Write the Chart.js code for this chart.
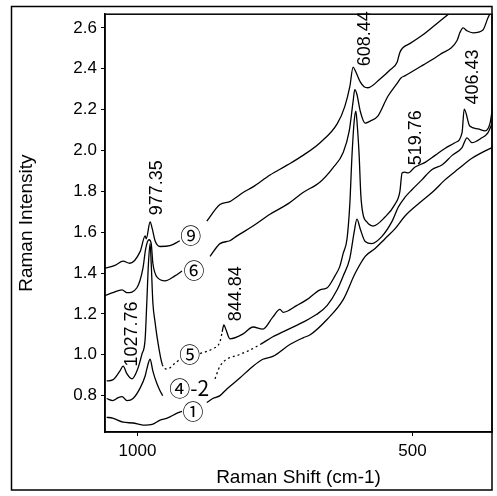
<!DOCTYPE html>
<html>
<head>
<meta charset="utf-8">
<script src="https://cdn.jsdelivr.net/npm/chart.js@4/dist/chart.umd.min.js"></script>
<style>
html,body{margin:0;padding:0;background:#fff;}
#wrap{width:497px;height:496px;position:relative;}
</style>
</head>
<body>
<div id="wrap"><canvas id="c"></canvas></div>
<script>
// ---- data (Raman shift in cm-1, intensity) ----
const shift9 = [1059,1041,1026,1014,995,986,984,977,973,968,959,941,923,905,874,850,832,808,790,759,728,699,668,637,623,614,608,603,595,588,581,559,541,528,523,517,505,481,450,428];
const int9   = [1.424,1.438,1.458,1.448,1.506,1.582,1.568,1.650,1.616,1.558,1.530,1.534,1.558,null,1.654,1.736,1.750,1.794,1.822,1.880,1.928,1.976,2.038,2.130,2.216,2.312,2.408,2.384,2.336,2.312,2.307,2.350,2.394,2.432,2.480,2.504,2.523,2.566,2.634,2.682];

const shift6 = [1059,1045,1028,1019,1001,990,985,979,975,972,963,950,932,919,895,868,850,832,819,790,759,728,699,668,645,626,615,608,605,601,595,586,577,563,545,526,521,514,481,450,419,414,408,401,390,372,363,357];
const int6   = [1.290,1.304,1.318,1.304,1.328,1.424,1.520,1.563,1.544,1.448,1.376,1.362,1.386,1.410,null,1.482,1.544,1.558,1.582,1.630,1.688,1.736,1.794,1.846,1.914,1.990,2.096,2.240,2.298,2.274,2.192,2.134,2.144,2.168,2.264,2.336,2.355,2.365,2.418,2.470,2.538,2.576,2.600,2.586,2.576,2.590,2.648,2.682];

const shift5 = [1056,1045,1032,1026,1019,1010,1001,992,986,983,980,977,975,972,968,963,955,946,932,923,905,886,863,850,846,843,839,832,808,790,772,754,741,735,710,692,668,655,641,632,626,619,614,610,606,603,601,597,594,590,583,572,550,532,523,519,514,508,496,477,459,441,423,410,406,396,381,368,359,355];
const int5   = [0.872,0.877,0.920,0.944,0.906,0.882,0.920,1.002,1.078,1.256,1.448,1.544,1.448,1.256,1.160,1.064,0.954,0.930,0.958,0.978,null,1.006,1.030,1.064,1.112,1.146,1.122,1.078,1.102,1.136,1.126,1.184,1.222,1.208,1.242,1.270,1.318,1.328,1.386,1.434,1.496,1.568,1.736,1.976,2.144,2.192,2.144,1.976,1.784,1.688,1.650,1.630,1.674,1.736,1.798,1.890,1.894,1.890,1.918,1.942,1.976,2.010,2.038,2.086,2.202,2.120,2.106,2.096,2.134,2.202];

const shift4 = [1056,1045,1035,1028,1019,1008,995,986,983,977,972,965,959,954,900,859,850,814,801,777,754,728,699,674,655,637,626,614,606,601,595,586,574,556,537,526,514,501,483,465,446,428,410,401,392,374,363,355];
const int4   = [0.786,0.776,0.790,0.795,0.776,0.786,0.838,0.896,0.930,0.978,0.920,0.862,0.824,0.800,null,0.882,0.944,1.002,1.016,1.050,1.088,1.122,1.160,1.198,1.242,1.318,1.386,1.472,1.602,1.664,1.616,1.554,1.544,1.578,1.654,1.722,1.770,1.808,1.856,1.906,1.930,1.976,2.014,2.062,2.038,2.062,2.086,2.134];

const shift1 = [1056,1045,1026,1008,990,972,959,946,928,919,895,874,863,850,837,814,790,772,754,723,699,686,655,626,604,586,568,550,532,514,486,463,441,417,392,365,355];
const int1   = [0.694,0.690,0.670,0.666,0.656,0.661,0.680,0.690,0.714,0.723,null,0.766,0.786,0.800,0.834,0.886,0.944,0.978,0.992,1.050,1.083,1.098,1.174,1.270,1.400,1.482,1.520,1.568,1.616,1.678,1.746,1.798,1.856,1.909,1.962,2.002,2.014];

// faint (dotted) stretches of the scanned traces, in cm-1
const dotted5 = [846, 958];
const dotted4 = [775, 862];

// tick values
const xTicks = [1000, 500];
const yTicks = [0.8, 1.0, 1.2, 1.4, 1.6, 1.8, 2.0, 2.2, 2.4, 2.6];

// peak annotations: text, shift, intensity (label centre)
const peakText  = ['977.35','1027.76','844.84','608.44','519.76','406.43'];
const peakShift = [964, 1010, 821, 586, 494, 390];
const peakInt   = [1.818, 1.102, 1.299, 2.547, 2.062, 2.360];

// curve labels
const curveText  = ['⑨','⑥','⑤','④-2','①'];
const curveShift = [903, 897, 905, 906, 899];
const curveInt   = [1.587, 1.414, 1.002, 0.838, 0.723];

const FONT = '"Liberation Sans", Arial, sans-serif';

function pts(xs, ys){ return xs.map((x,i)=>({x:x, y:ys[i]})); }
function ds(xs, ys, dotted){
  const d = {data: pts(xs,ys), borderColor:'#000', borderWidth:1.3, pointRadius:0,
          fill:false, spanGaps:false, cubicInterpolationMode:'monotone'};
  if (dotted){
    d.segment = { borderDash: c => {
      const a = c.p0.parsed.x, b = c.p1.parsed.x;
      return (Math.min(a,b) >= dotted[0] && Math.max(a,b) <= dotted[1]) ? [2,3] : undefined;
    }};
  }
  return d;
}

const labelPlugin = {
  id:'labels',
  afterDatasetsDraw(chart){
    const ctx = chart.ctx, xs = chart.scales.x, ys = chart.scales.y;
    ctx.save();
    ctx.fillStyle = '#000';
    ctx.textAlign = 'center';
    ctx.textBaseline = 'middle';
    ctx.font = '18px ' + FONT;
    for (let i=0;i<peakText.length;i++){
      ctx.save();
      ctx.translate(xs.getPixelForValue(peakShift[i]), ys.getPixelForValue(peakInt[i]));
      ctx.rotate(-Math.PI/2);
      ctx.fillText(peakText[i], 0, 0);
      ctx.restore();
    }
    ctx.font = '21px "Noto Sans CJK SC", "DejaVu Sans", sans-serif';
    for (let i=0;i<curveText.length;i++){
      ctx.fillText(curveText[i], xs.getPixelForValue(curveShift[i]), ys.getPixelForValue(curveInt[i]));
    }
    ctx.restore();
  },
  afterDraw(chart){
    const ctx = chart.ctx, a = chart.chartArea;
    ctx.save();
    ctx.strokeStyle = '#000';
    ctx.lineWidth = 1.5;
    ctx.strokeRect(11.5, 6.5, a.right - 11.5, 490 - 6.5);
    ctx.strokeRect(a.left, a.top, a.right - a.left, a.bottom - a.top);
    ctx.restore();
  }
};

new Chart(document.getElementById('c'), {
  type:'line',
  data:{ datasets:[ ds(shift9,int9), ds(shift6,int6), ds(shift5,int5,dotted5), ds(shift4,int4,dotted4), ds(shift1,int1) ] },
  options:{
    responsive:true, maintainAspectRatio:false, animation:false,
    layout:{ padding:{left:11, right:5, top:6, bottom:6} },
    plugins:{ legend:{display:false}, tooltip:{enabled:false} },
    scales:{
      x:{
        type:'linear', reverse:true, min:355.5, max:1059,
        afterBuildTicks: s => { s.ticks = xTicks.map(v=>({value:v})); },
        afterFit: s => { s.height = 58; },
        ticks:{ color:'#000', font:{family:FONT, size:17}, maxRotation:0, padding:5, callback:v=>String(v) },
        grid:{ display:true, drawOnChartArea:false, drawTicks:true, tickLength:4, color:'#000' },
        border:{ display:true, color:'#000', width:1.5 },
        title:{ display:true, text:'Raman Shift (cm-1)', color:'#000', font:{family:FONT, size:19}, padding:{top:0, bottom:1} }
      },
      y:{
        type:'linear', min:0.622, max:2.667,
        afterBuildTicks: s => { s.ticks = yTicks.map(v=>({value:v})); },
        afterFit: s => { s.width = 94; },
        ticks:{ color:'#000', font:{family:FONT, size:17}, padding:4, callback:v=>Number(v).toFixed(1) },
        grid:{ display:true, drawOnChartArea:false, drawTicks:true, tickLength:4, color:'#000' },
        border:{ display:true, color:'#000', width:1.5 },
        title:{ display:true, text:'Raman Intensity', color:'#000', font:{family:FONT, size:19}, padding:{top:4, bottom:0} }
      }
    }
  },
  plugins:[labelPlugin]
});
</script>
</body>
</html>
